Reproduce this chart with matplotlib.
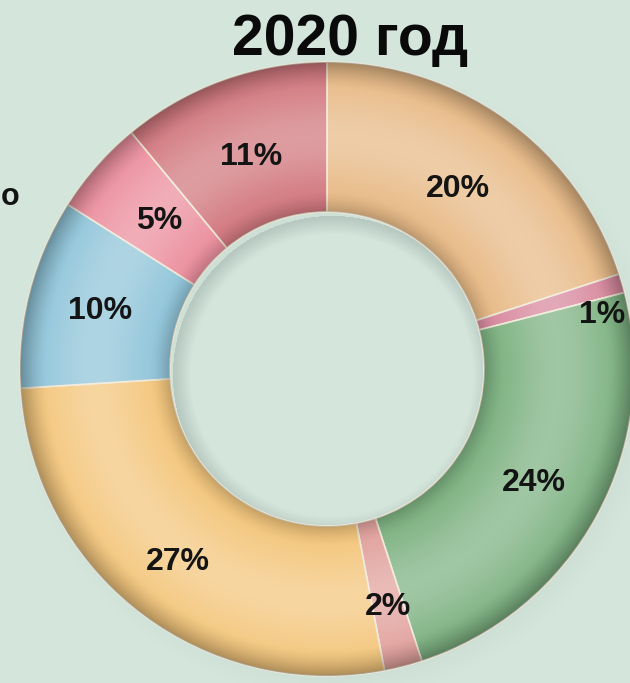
import numpy as np
import matplotlib
matplotlib.use("Agg")
import matplotlib.pyplot as plt
from matplotlib.patches import Wedge

# data (clockwise from 12 o'clock)
labels = ["20%", "1%", "24%", "2%", "27%", "10%", "5%", "11%"]
values = [20, 1, 24, 2, 27, 10, 5, 11]
colors = ["#e8bb88", "#d98ba0", "#7fb383", "#e2a39e", "#f4c77e", "#92c6da", "#ec909f", "#d27a80"]
title = "2020 год"

# label placement: radius (px from centre) and small angle nudge (deg)
label_r = [222, 280, 236, 246, 244, 234, 224, 225]
label_nudge = [0, -5, 0, 0, 0, 0, 0, 0]

W, H = 630, 683
cx, cy = 327, H - 369
r_out, r_in = 307, 157
bg = "#d4e5dc"

fig = plt.figure(figsize=(W / 100, H / 100), dpi=100, facecolor=bg)
ax = fig.add_axes([0, 0, 1, 1])

# soft drop shadow under the ring
yy, xx = np.mgrid[0:H, 0:W] + 0.5
rs = np.hypot(xx - (cx + 9), yy - (cy - 11))
sh = np.clip(1 - np.abs(rs - (r_out + r_in) / 2) / ((r_out - r_in) / 2 + 16), 0, 1) ** 1.5 * 0.35
shadow = np.zeros((H, W, 4))
shadow[..., :3] = np.array([0.42, 0.49, 0.46])
shadow[..., 3] = sh
ax.imshow(shadow, extent=(0, W, 0, H), origin="lower", zorder=1, interpolation="bilinear")

wedges, _ = ax.pie(values, colors=colors, startangle=90, counterclock=False,
                   radius=r_out, center=(cx, cy), frame=False,
                   wedgeprops=dict(width=r_out - r_in, edgecolor="#efe8d6", linewidth=1.2))
for w in wedges:
    w.set_zorder(3)

# bevel shading over the ring, clipped to it
r = np.hypot(xx - cx, yy - cy)
t = np.clip((r - r_in) / (r_out - r_in), 0, 1)
lite = 0.26 * np.sin(np.pi * t) ** 2
dark = 0.20 * np.clip(1 - t / 0.14, 0, 1) ** 1.5 + 0.30 * np.clip((t - 0.82) / 0.18, 0, 1) ** 1.5
ov = np.zeros((H, W, 4))
ov[..., :3] = (lite / np.maximum(lite + dark, 1e-6))[..., None]
ov[..., 3] = lite + dark
ring = Wedge((cx, cy), r_out, 0, 360, width=r_out - r_in, transform=ax.transData)
im = ax.imshow(ov, extent=(0, W, 0, H), origin="lower", zorder=4, interpolation="bilinear")
im.set_clip_path(ring)

# shadow inside the hole (upper-left)
rh = np.hypot(xx - (cx + 5), yy - (cy - 6))
hole = np.clip(1 - (r_in - rh) / 16, 0, 1) * (rh < r_in + 2) * 0.3
ho = np.zeros((H, W, 4))
ho[..., :3] = np.array([0.5, 0.58, 0.55])
ho[..., 3] = hole
ax.imshow(ho, extent=(0, W, 0, H), origin="lower", zorder=2, interpolation="bilinear")

ax.set_xlim(0, W)
ax.set_ylim(0, H)
ax.set_aspect("equal")
ax.axis("off")

# percentage labels
cum = np.cumsum([0] + values[:-1])
for lab, v, c0, rr, nd in zip(labels, values, cum, label_r, label_nudge):
    ang = np.deg2rad(90 - (c0 + v / 2) / sum(values) * 360 + nd)
    ax.text(cx + rr * np.cos(ang), cy + rr * np.sin(ang), lab, ha="center", va="center",
            fontsize=23, fontweight="bold", family="Liberation Sans", color="#141414", zorder=6)

ax.text(350, H - 40, title, ha="center", va="center", fontsize=41, fontweight="bold",
        family="Liberation Sans", color="#0a0a0a", zorder=6)

# letter at the left edge (cut off in the source image)
ax.text(1, H - 197, "о", ha="left", va="center", fontsize=22, fontweight="bold",
        family="Liberation Sans", color="#141414", zorder=6)

fig.savefig("out.png", dpi=100, facecolor=bg)
